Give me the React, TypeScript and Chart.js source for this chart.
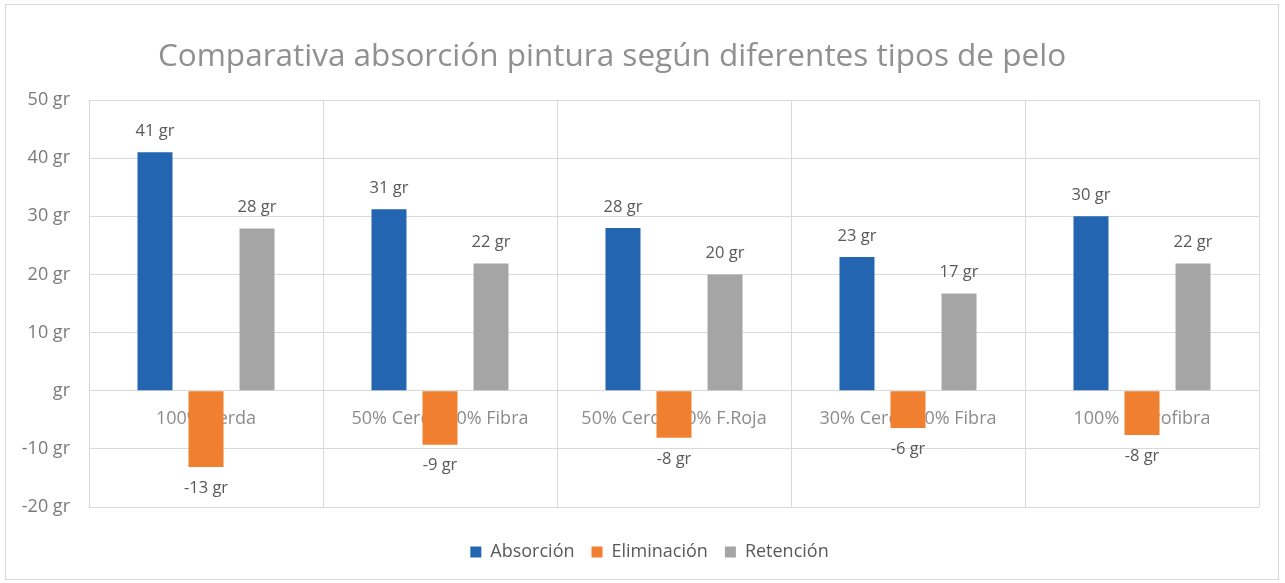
import React, { useEffect, useRef } from "react";
import { Chart, registerables } from "chart.js";

Chart.register(...registerables);

const categories = [
  "100% Cerda",
  "50% Cerda 50% Fibra",
  "50% Cerda 50% F.Roja",
  "30% Cerda 70% Fibra",
  "100% Microfibra",
];
const absorcion = [41, 31.2, 28, 23, 30];
const eliminacion = [-13.1, -9.3, -8.1, -6.4, -7.6];
const retencion = [27.9, 21.9, 20, 16.7, 21.9];
const seriesNames = ["Absorción", "Eliminación", "Retención"];
const titleText = "Comparativa absorción pintura según diferentes tipos de pelo";
const yMin = -20;
const yMax = 50;
const yStep = 10;

const FONT = "'Open Sans', 'Noto Sans', sans-serif";

const titlePlugin = {
  id: "customTitle",
  afterDraw(chart: any) {
    const ctx = chart.ctx;
    ctx.save();
    ctx.font = `31.5px ${FONT}`;
    ctx.fillStyle = "#909090";
    ctx.textAlign = "center";
    ctx.textBaseline = "middle";
    ctx.fillText(titleText, 612, 57);
    ctx.restore();
  },
};

const legendShiftPlugin = {
  id: "legendShift",
  afterLayout(chart: any) {
    if (chart.legend) {
      chart.legend.left += 40;
    }
  },
};

const dataLabelPlugin = {
  id: "dataLabels",
  afterDatasetsDraw(chart: any) {
    const ctx = chart.ctx;
    ctx.save();
    ctx.font = `16.5px ${FONT}`;
    ctx.fillStyle = "#595959";
    ctx.textAlign = "center";
    ctx.textBaseline = "middle";
    chart.data.datasets.forEach((ds: any, di: number) => {
      const meta = chart.getDatasetMeta(di);
      meta.data.forEach((el: any, i: number) => {
        const v = ds.data[i] as number;
        const txt = `${Math.round(v)} gr`;
        const y = v >= 0 ? el.y - 21 : el.y + 21;
        ctx.fillText(txt, el.x, y);
      });
    });
    ctx.restore();
  },
};

export default function App() {
  const ref = useRef<HTMLCanvasElement | null>(null);
  useEffect(() => {
    if (!ref.current) return;
    const chart = new Chart(ref.current, {
      type: "bar",
      data: {
        labels: categories,
        datasets: [
          { label: seriesNames[0], data: absorcion, backgroundColor: "#2365b0" },
          { label: seriesNames[1], data: eliminacion, backgroundColor: "#f07f30" },
          { label: seriesNames[2], data: retencion, backgroundColor: "#a5a5a5" },
        ],
      },
      options: {
        animation: false,
        responsive: false,
        events: [],
        datasets: {
          bar: { barPercentage: 0.686, categoryPercentage: 0.654 },
        },
        layout: { padding: { left: 0, right: 26, top: 100, bottom: 12 } },
        scales: {
          x: {
            position: { y: 0 } as any,
            grid: { color: "#d9d9d9", drawTicks: false, offset: true },
            border: { display: false },
            ticks: {
              color: "#8c8c8c",
              font: { family: FONT, size: 18 },
              padding: 17,
              maxRotation: 0,
              autoSkip: false,
            },
          },
          y: {
            min: yMin,
            max: yMax,
            afterFit: (s: any) => {
              s.width = 89;
            },
            grid: { color: "#d9d9d9", drawTicks: false },
            border: { display: false },
            ticks: {
              stepSize: yStep,
              color: "#7a7a7a",
              font: { family: FONT, size: 18 },
              padding: 19,
              callback: (v: any) => (Number(v) === 0 ? "gr" : `${v} gr`),
            },
          },
        },
        plugins: {
          title: { display: false },
          tooltip: { enabled: false },
          legend: {
            position: "bottom",
            title: {
              display: true,
              text: "",
              font: { size: 10 },
              padding: { top: 0, bottom: 7 },
            },
            labels: {
              boxWidth: 11,
              boxHeight: 11,
              padding: 17,
              color: "#595959",
              font: { family: FONT, size: 18 },
            },
          },
        },
      },
      plugins: [titlePlugin, dataLabelPlugin, legendShiftPlugin],
    });
    return () => chart.destroy();
  }, []);

  return (
    <div style={{ position: "absolute", left: 0, top: 0, width: 1285, height: 583, background: "#fff" }}>
      <canvas ref={ref} width={1285} height={583} style={{ display: "block" }} />
      <div
        style={{
          position: "absolute",
          left: 5,
          top: 4,
          width: 1274,
          height: 576,
          border: "1px solid #d9d9d9",
          boxSizing: "border-box",
          pointerEvents: "none",
        }}
      />
    </div>
  );
}
